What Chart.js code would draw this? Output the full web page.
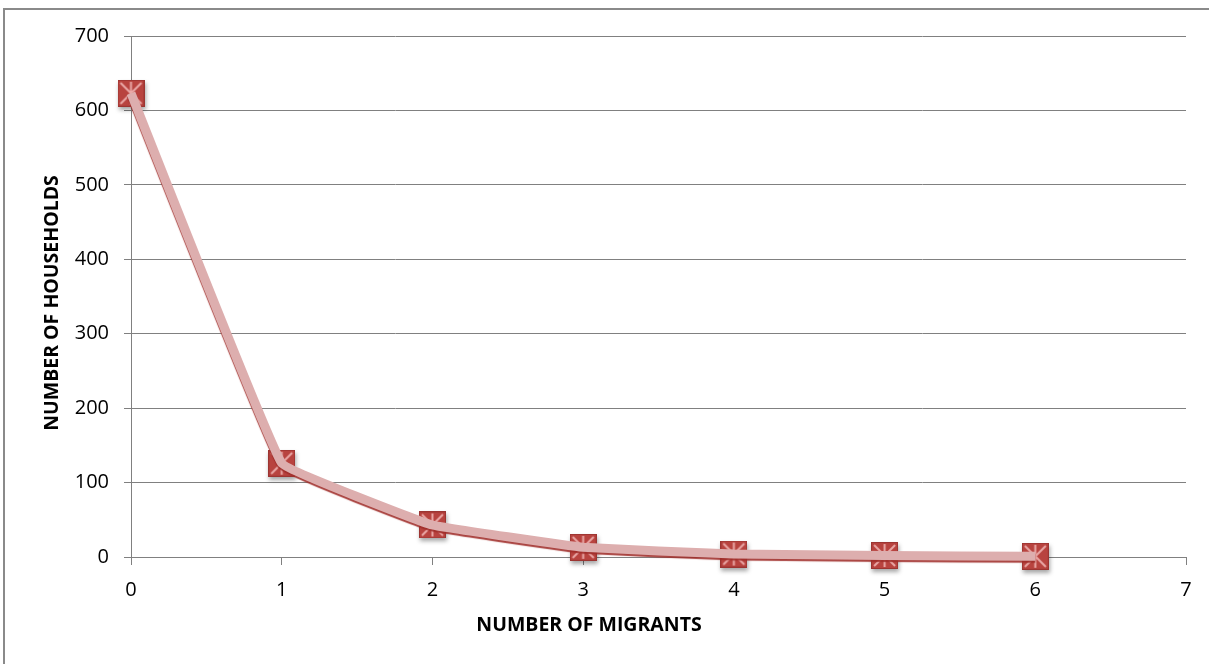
<!DOCTYPE html>
<html>
<head>
<meta charset="utf-8">
<script src="https://cdn.jsdelivr.net/npm/chart.js@4.4.1/dist/chart.umd.min.js"></script>
<style>
  html, body { margin: 0; padding: 0; background: #fff; }
  #wrap { position: relative; width: 1209px; height: 664px; }
  #frame { position: absolute; left: 3px; top: 8px; right: -10px; bottom: -10px;
           border-left: 2px solid #8a8a8a; border-top: 2px solid #8a8a8a; }
  canvas { position: absolute; left: 0; top: 0; }
</style>
</head>
<body>
<div id="wrap">
  <div id="frame"></div>
  <canvas id="chart" width="1209" height="664"></canvas>
</div>
<script>
const migrants = [0, 1, 2, 3, 4, 5, 6];
const households = [623, 126, 43, 13, 4, 2, 1];
const xTitle = 'NUMBER OF MIGRANTS';
const yTitle = 'NUMBER OF HOUSEHOLDS';

const points = migrants.map((m, i) => ({x: m, y: households[i]}));

// red square marker with a pink asterisk, like the old Excel style
function makeMarker() {
    const s = 27;
    const c = document.createElement('canvas');
    c.width = s; c.height = s;
    const g = c.getContext('2d');
    g.fillStyle = '#b8433f';
    g.fillRect(0, 0, s, s);
    g.strokeStyle = '#9c3532';
    g.lineWidth = 1;
    g.strokeRect(0.5, 0.5, s - 1, s - 1);
    g.strokeStyle = '#eaa9a7';
    g.lineWidth = 2;
    g.beginPath();
    g.moveTo(3, 3); g.lineTo(s - 3, s - 3);
    g.moveTo(s - 3, 3); g.lineTo(3, s - 3);
    g.moveTo(s / 2, 2); g.lineTo(s / 2, s - 2);
    g.stroke();
    return c;
}

const shadowPlugin = {
    id: 'shadows',
    beforeDatasetDraw(chart, args) {
        const ctx = chart.ctx;
        ctx.save();
        if (args.index === 0) {
            ctx.shadowColor = 'rgba(160,45,42,0.9)';
            ctx.shadowOffsetY = 2;
            ctx.shadowBlur = 1;
        } else {
            ctx.shadowColor = 'rgba(0,0,0,0.35)';
            ctx.shadowOffsetY = 3;
            ctx.shadowOffsetX = 1;
            ctx.shadowBlur = 4;
        }
    },
    afterDatasetDraw(chart) {
        chart.ctx.restore();
    }
};

const titlePlugin = {
    id: 'axisTitles',
    afterDraw(chart) {
        const ctx = chart.ctx;
        ctx.save();
        ctx.fillStyle = '#000';
        ctx.font = 'bold 19.5px "Open Sans"';
        ctx.textAlign = 'center';
        ctx.textBaseline = 'middle';
        ctx.fillText(xTitle, 589, 625);
        ctx.translate(52, 303);
        ctx.rotate(-Math.PI / 2);
        ctx.fillText(yTitle, 0, 0);
        ctx.restore();
    }
};

const gridColor = '#808080';

new Chart(document.getElementById('chart'), {
    type: 'line',
    data: {
        datasets: [
            {
                data: points,
                borderColor: '#ddaeae',
                borderWidth: 9,
                tension: 0.06,
                pointRadius: 0,
                fill: false,
                clip: false
            },
            {
                data: points,
                showLine: false,
                pointStyle: makeMarker(),
                pointRadius: 14,
                pointHoverRadius: 14,
                clip: false
            }
        ]
    },
    options: {
        responsive: false,
        animation: false,
        events: [],
        layout: { padding: { top: 36, right: 23, bottom: 0, left: 0 } },
        plugins: { legend: { display: false }, tooltip: { enabled: false } },
        scales: {
            x: {
                type: 'linear',
                min: 0, max: 7,
                afterFit(scale) { scale.height = 107; },
                ticks: { stepSize: 1, color: '#000', padding: 13,
                         font: { family: 'Open Sans', size: 20 } },
                grid: { drawOnChartArea: false, color: gridColor, tickLength: 8 },
                border: { color: gridColor, width: 1 }
            },
            y: {
                min: 0, max: 700,
                afterFit(scale) { scale.width = 131; },
                ticks: { stepSize: 100, color: '#000', padding: 15,
                         font: { family: 'Open Sans', size: 20 } },
                grid: { color: gridColor, tickLength: 7 },
                border: { color: gridColor, width: 1 }
            }
        }
    },
    plugins: [shadowPlugin, titlePlugin]
});
</script>
</body>
</html>
